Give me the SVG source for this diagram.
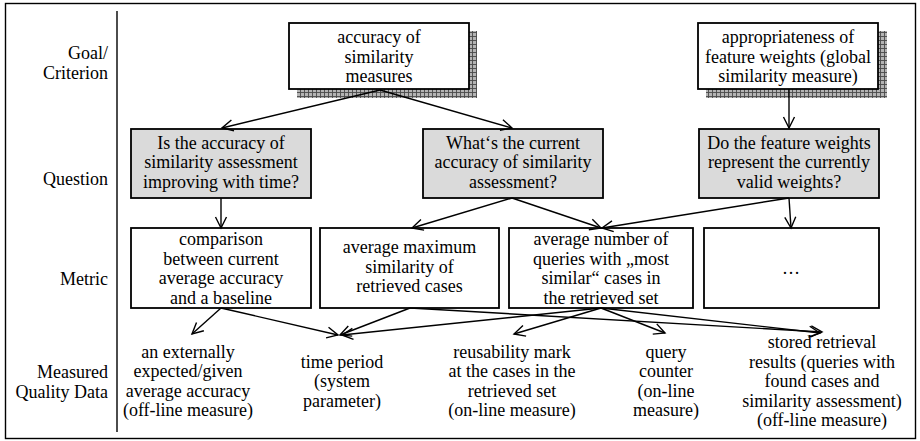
<svg xmlns="http://www.w3.org/2000/svg" width="920" height="441" viewBox="0 0 920 441">
<style>
text{font-family:"Liberation Serif","Times New Roman",serif;font-size:18px;fill:#000}
.c{text-anchor:middle}
.r{text-anchor:end}
.box{fill:#fff;stroke:#000;stroke-width:1.8}
.q{fill:#dadada;stroke:#000;stroke-width:1.8}
.sh{fill:url(#hatch)}
.ln{fill:none;stroke:#000;stroke-width:1.4}
</style>
<defs>
<pattern id="hatch" patternUnits="userSpaceOnUse" width="4" height="4">
<rect width="4" height="4" fill="#b4b4b4"/>
<path d="M0,0.5H4M0.5,0V4" stroke="#4a4a4a" stroke-width="0.9"/>
</pattern>
<marker id="ah" markerUnits="userSpaceOnUse" markerWidth="16" markerHeight="16" viewBox="-13 -8 16 16" refX="0" refY="0" orient="auto">
<path d="M-11,-5.5L0,0L-11,5.5" fill="none" stroke="#000" stroke-width="1.4"/>
</marker>
</defs>
<rect x="5.5" y="3.5" width="910" height="435" fill="#fff" stroke="#000" stroke-width="1.4"/>
<line x1="117" y1="11" x2="117" y2="432" stroke="#000" stroke-width="1.4"/>

<g id="labels">
<text class="r" x="108" y="59">Goal/</text>
<text class="r" x="108" y="78.5">Criterion</text>
<text class="r" x="108" y="185">Question</text>
<text class="r" x="108" y="285">Metric</text>
<text class="r" x="108" y="378">Measured</text>
<text class="r" x="108" y="397.5">Quality Data</text>
</g>

<g id="goal1">
<rect class="sh" x="297" y="31" width="180" height="67"/>
<rect class="box" x="289" y="23" width="180" height="66"/>
<text class="c" x="379" y="43">accuracy of</text>
<text class="c" x="379" y="62.5">similarity</text>
<text class="c" x="379" y="82">measures</text>
</g>

<g id="goal2">
<rect class="sh" x="706" y="31" width="181" height="67"/>
<rect class="box" x="698" y="23" width="180" height="66"/>
<text class="c" x="788" y="43">appropriateness of</text>
<text class="c" x="788" y="62.5">feature weights (global</text>
<text class="c" x="788" y="82">similarity measure)</text>
</g>

<g id="q1">
<rect class="q" x="131" y="129" width="180" height="69"/>
<text class="c" x="221" y="148.5">Is the accuracy of</text>
<text class="c" x="221" y="168">similarity assessment</text>
<text class="c" x="221" y="187.5">improving with time?</text>
</g>

<g id="q2">
<rect class="q" x="423" y="129" width="180" height="69"/>
<text class="c" x="513" y="148.5">What‘s the current</text>
<text class="c" x="513" y="168">accuracy of similarity</text>
<text class="c" x="513" y="187.5">assessment?</text>
</g>

<g id="q3">
<rect class="q" x="699" y="129" width="180" height="69"/>
<text class="c" x="789" y="148.5">Do the feature weights</text>
<text class="c" x="789" y="168">represent the currently</text>
<text class="c" x="789" y="187.5">valid weights?</text>
</g>

<g id="m1">
<rect class="box" x="131" y="228" width="180" height="80"/>
<text class="c" x="221" y="245">comparison</text>
<text class="c" x="221" y="264.5">between current</text>
<text class="c" x="221" y="284">average accuracy</text>
<text class="c" x="221" y="303.5">and a baseline</text>
</g>

<g id="m2">
<rect class="box" x="320" y="228" width="179" height="80"/>
<text class="c" x="409.5" y="253">average maximum</text>
<text class="c" x="409.5" y="272.5">similarity of</text>
<text class="c" x="409.5" y="292">retrieved cases</text>
</g>

<g id="m3">
<rect class="box" x="509" y="228" width="184" height="80"/>
<text class="c" x="601" y="245">average number of</text>
<text class="c" x="601" y="264.5">queries with „most</text>
<text class="c" x="601" y="284">similar“ cases in</text>
<text class="c" x="601" y="303.5">the retrieved set</text>
</g>

<g id="m4">
<rect class="box" x="704" y="228" width="175" height="80"/>
<text class="c" x="791" y="274">…</text>
</g>

<g id="d1">
<text class="c" x="188" y="358">an externally</text>
<text class="c" x="188" y="377">expected/given</text>
<text class="c" x="188" y="396.5">average accuracy</text>
<text class="c" x="188" y="416">(off-line measure)</text>
</g>

<g id="d2">
<text class="c" x="342" y="367.5">time period</text>
<text class="c" x="342" y="387">(system</text>
<text class="c" x="342" y="406.5">parameter)</text>
</g>

<g id="d3">
<text class="c" x="512" y="358">reusability mark</text>
<text class="c" x="512" y="377">at the cases in the</text>
<text class="c" x="512" y="396.5">retrieved set</text>
<text class="c" x="512" y="416">(on-line measure)</text>
</g>

<g id="d4">
<text class="c" x="666" y="358">query</text>
<text class="c" x="666" y="377">counter</text>
<text class="c" x="666" y="396.5">(on-line</text>
<text class="c" x="666" y="416">measure)</text>
</g>

<g id="d5">
<text class="c" x="822" y="348">stored retrieval</text>
<text class="c" x="822" y="367.5">results (queries with</text>
<text class="c" x="822" y="387">found cases and</text>
<text class="c" x="822" y="406.5">similarity assessment)</text>
<text class="c" x="822" y="426">(off-line measure)</text>
</g>

<g id="connectors" class="ln" marker-end="url(#ah)">
<path class="ln" marker-end="url(#ah)" d="M380,90L222,128"/>
<path class="ln" marker-end="url(#ah)" d="M380,90L512,128"/>
<path class="ln" marker-end="url(#ah)" d="M789,89L789,128"/>
<path class="ln" marker-end="url(#ah)" d="M221,198L221,228"/>
<path class="ln" marker-end="url(#ah)" d="M512,198L412,228"/>
<path class="ln" marker-end="url(#ah)" d="M512,198L601,228"/>
<path class="ln" marker-end="url(#ah)" d="M789,198L602,228"/>
<path class="ln" marker-end="url(#ah)" d="M789,198L791,228"/>
<path class="ln" marker-end="url(#ah)" d="M221,308L192,334"/>
<path class="ln" marker-end="url(#ah)" d="M221,308L338,335"/>
<path class="ln" marker-end="url(#ah)" d="M410,308L340,335"/>
<path class="ln" marker-end="url(#ah)" d="M601,308L342,335"/>
<path class="ln" marker-end="url(#ah)" d="M601,308L514,334"/>
<path class="ln" marker-end="url(#ah)" d="M601,308L665,333"/>
<path class="ln" marker-end="url(#ah)" d="M601,308L820,333"/>
<path class="ln" marker-end="url(#ah)" d="M410,308L822,332"/>
</g>
</svg>
